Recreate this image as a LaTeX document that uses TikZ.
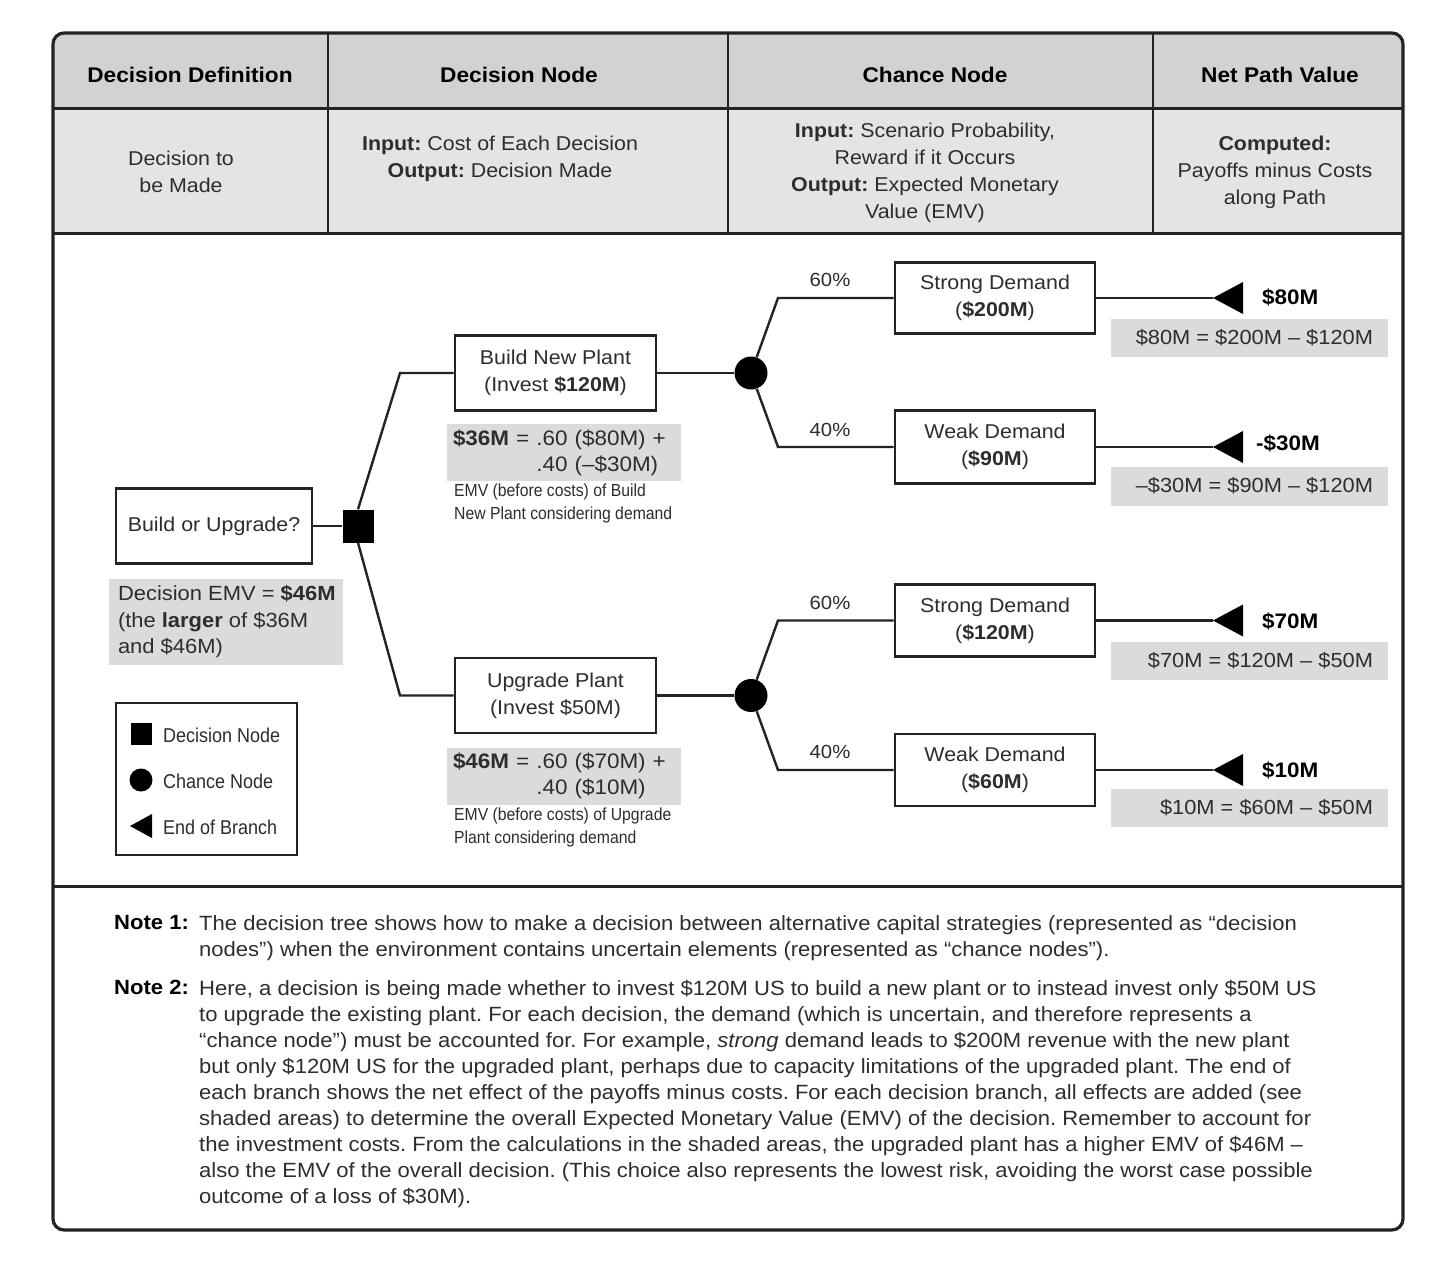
\documentclass[tikz,border=0pt]{standalone}
\usepackage{fontspec}
\setmainfont[FakeStretch=1.07]{Liberation Sans}
\newfontfamily\condf[FakeStretch=0.9]{Liberation Sans}
\definecolor{hdr}{RGB}{210,210,210}
\definecolor{row}{RGB}{228,228,228}
\definecolor{shd}{RGB}{219,219,219}
\definecolor{ln}{RGB}{35,35,35}
\definecolor{txt}{RGB}{45,45,45}
\tikzset{
  base/.style={font=\fontsize{20}{27}\selectfont, text=txt, inner sep=0pt},
  hd/.style={base, font=\fontsize{21.2}{27}\selectfont\bfseries, text=black},
  rw/.style={base, align=center},
  tbox/.style={base, draw=ln, line width=2.6pt, fill=white, minimum width=201pt, minimum height=75pt, align=center},
  shadebox/.style={base, fill=shd, align=left},
  link/.style={draw=ln, line width=2.4pt},
  captxt/.style={base, font=\condf\fontsize{17.5}{22.5}\selectfont, align=left, anchor=north west},
  legtxt/.style={base, font=\condf\fontsize{20}{24}\selectfont, anchor=west},
  notetxt/.style={base, font=\fontsize{20.6}{26}\selectfont, align=left, anchor=north west},
  valtxt/.style={base, font=\fontsize{21}{24}\selectfont\bfseries, text=black, anchor=west},
  pcttxt/.style={base, font=\fontsize{19}{24}\selectfont},
  grybox/.style={base, fill=shd, minimum width=277pt, minimum height=38pt},
  grytxt/.style={base, font=\fontsize{20.4}{26}\selectfont, anchor=east},
  emvtxt/.style={base, fill=shd, font=\fontsize{21}{26}\selectfont, minimum width=234pt, minimum height=57pt, text width=222pt, inner xsep=6pt, align=left}
}
\begin{document}
\frenchspacing
\begin{tikzpicture}[x=1pt,y=-1pt]
\useasboundingbox (0,0) rectangle (1452,1266);
% table fills
\begin{scope}
\clip[rounded corners=11pt] (53,33) rectangle (1403,1230);
\fill[white] (53,33) rectangle (1403,1230);
\fill[hdr] (53,33) rectangle (1403,108);
\fill[row] (53,108) rectangle (1403,233);
\end{scope}
\draw[ln, line width=3pt] (53,108) -- (1403,108);
\draw[ln, line width=3pt] (53,233) -- (1403,233);
\draw[ln, line width=3pt] (53,886) -- (1403,886);
\foreach \xx in {328,728,1153} \draw[ln, line width=2.6pt] (\xx,33) -- (\xx,233);
\draw[ln, line width=3.2pt, rounded corners=11pt] (53,33) rectangle (1403,1230);

% header
\node[hd] (h1) at (190,75) {Decision Definition};
\node[hd] (h2) at (519,75) {Decision Node};
\node[hd] (h3) at (935,75) {Chance Node};
\node[hd] (h4) at (1280,75) {Net Path Value};
\node[rw] (r1) at (181,171.5) {Decision to\\be Made};
\node[rw] (r2) at (500,158.5) {\textbf{Input:} Cost of Each Decision\\\textbf{Output:} Decision Made};
\node[rw] (r3) at (925,172.5) {\textbf{Input:} Scenario Probability,\\Reward if it Occurs\\\textbf{Output:} Expected Monetary\\Value (EMV)};
\node[rw] (r4) at (1275,172.5) {\textbf{Computed:}\\Payoffs minus Costs\\along Path};

% tree nodes
\node[tbox, minimum width=196pt] (q) at (214,526) {Build or Upgrade?};
\node[fill=black, minimum width=31pt, minimum height=33pt, inner sep=0pt] (sq) at (358,526) {};
\node[tbox] (bnp) at (555.5,373) {Build New Plant\\(Invest \textbf{\$120M})};
\node[tbox] (up) at (555.5,695.5) {Upgrade Plant\\(Invest \$50M)};
\node[circle, fill=black, minimum size=33pt, inner sep=0pt] (c1) at (751,373) {};
\node[circle, fill=black, minimum size=33pt, inner sep=0pt] (c2) at (751,695.5) {};
\node[tbox, minimum width=200pt, minimum height=71pt] (sd1) at (995,298) {Strong Demand\\(\textbf{\$200M})};
\node[tbox, minimum width=200pt, minimum height=73pt] (wd1) at (995,447) {Weak Demand\\(\textbf{\$90M})};
\node[tbox, minimum width=200pt, minimum height=72pt] (sd2) at (995,620.5) {Strong Demand\\(\textbf{\$120M})};
\node[tbox, minimum width=200pt, minimum height=72pt] (wd2) at (995,770) {Weak Demand\\(\textbf{\$60M})};

\coordinate (k1) at (400,373);
\coordinate (k2) at (400,695.5);
\coordinate (a1) at (778,298);
\coordinate (a2) at (778,447);
\coordinate (a3) at (778,620.5);
\coordinate (a4) at (778,770);
\coordinate (e1) at (1213,298);
\coordinate (e2) at (1213,447);
\coordinate (e3) at (1213,620.5);
\coordinate (e4) at (1213,770);

\draw[link] (q.east) -- (sq.west);
\draw[link] (sq.north) -- (k1) -- (bnp.west);
\draw[link] (sq.south) -- (k2) -- (up.west);
\draw[link] (bnp.east) -- (c1);
\draw[link] (up.east) -- (c2);
\draw[link] (c1) -- (a1) -- (sd1.west);
\draw[link] (c1) -- (a2) -- (wd1.west);
\draw[link] (c2) -- (a3) -- (sd2.west);
\draw[link] (c2) -- (a4) -- (wd2.west);
\draw[link] (sd1.east) -- (e1);
\draw[link] (wd1.east) -- (e2);
\draw[link] (sd2.east) -- (e3);
\draw[link] (wd2.east) -- (e4);
\foreach \e in {e1,e2,e3,e4} \fill[black] (\e) -- ++(30,-16) -- ++(0,32) -- cycle;

% percentages
\node[pcttxt] (p1) at (830,280) {60\%};
\node[pcttxt] (p2) at (830,430) {40\%};
\node[pcttxt] (p3) at (830,603) {60\%};
\node[pcttxt] (p4) at (830,752) {40\%};

% end values
\node[valtxt] (v1) at (1262,297) {\$80M};
\node[valtxt] (v2) at (1256,443) {-\$30M};
\node[valtxt] (v3) at (1262,621) {\$70M};
\node[valtxt] (v4) at (1262,770) {\$10M};

\node[grybox] (g1) at (1249.5,338) {};
\node[grytxt] (g1t) at ([xshift=-15pt]g1.east) {\$80M = \$200M – \$120M};
\node[grybox, minimum height=39pt] (g2) at (1249.5,486) {};
\node[grytxt] (g2t) at ([xshift=-15pt]g2.east) {–\$30M = \$90M – \$120M};
\node[grybox] (g3) at (1249.5,661) {};
\node[grytxt] (g3t) at ([xshift=-15pt]g3.east) {\$70M = \$120M – \$50M};
\node[grybox] (g4) at (1249.5,808) {};
\node[grytxt] (g4t) at ([xshift=-15pt]g4.east) {\$10M = \$60M – \$50M};

% EMV boxes
\node[emvtxt] (m1) at (564,452.5) {\textbf{\$36M} = .60 (\$80M) +\\\phantom{\textbf{\$36M} = }.40 (–\$30M)};
\node[captxt] (c1t) at (454,484) {EMV (before costs) of Build\\New Plant considering demand};
\node[emvtxt] (m2) at (564,776) {\textbf{\$46M} = .60 (\$70M) +\\\phantom{\textbf{\$46M} = }.40 (\$10M)};
\node[captxt] (c2t) at (454,808) {EMV (before costs) of Upgrade\\Plant considering demand};

\node[base, fill=shd, minimum width=234pt, minimum height=86pt] (dm) at (226,622) {};
\node[base, anchor=west, align=left, font=\fontsize{20.5}{26.5}\selectfont] (dmt) at ([xshift=9pt]dm.west) {Decision EMV = \textbf{\$46M}\\(the \textbf{larger} of \$36M\\and \$46M)};

% legend
\node[draw=ln, line width=2.6pt, minimum width=181pt, minimum height=152pt] (lg) at (206.5,779) {};
\node[fill=black, minimum width=21pt, minimum height=22pt] (ls) at (141,734) {};
\node[circle, fill=black, minimum size=23pt] (lc) at (141,780) {};
\coordinate (lt) at (130,826);
\fill[black] (lt) -- ++(22,-12) -- ++(0,24) -- cycle;
\node[legtxt] (l1) at (163,735) {Decision Node};
\node[legtxt] (l2) at (163,781) {Chance Node};
\node[legtxt] (l3) at (163,827) {End of Branch};

% notes
\node[notetxt, font=\fontsize{20.6}{26}\selectfont\bfseries, text=black] (n1) at (114,915) {Note 1:};
\node[notetxt] (n1t) at (199,915) {The decision tree shows how to make a decision between alternative capital strategies (represented as “decision\\nodes”) when the environment contains uncertain elements (represented as “chance nodes”).};
\node[notetxt, font=\fontsize{20.6}{26}\selectfont\bfseries, text=black] (n2) at (114,980) {Note 2:};
\node[notetxt] (n2t) at (199,980) {Here, a decision is being made whether to invest \$120M US to build a new plant or to instead invest only \$50M US\\
to upgrade the existing plant. For each decision, the demand (which is uncertain, and therefore represents a\\
“chance node”) must be accounted for. For example, \emph{strong} demand leads to \$200M revenue with the new plant\\
but only \$120M US for the upgraded plant, perhaps due to capacity limitations of the upgraded plant. The end of\\
each branch shows the net effect of the payoffs minus costs. For each decision branch, all effects are added (see\\
shaded areas) to determine the overall Expected Monetary Value (EMV) of the decision. Remember to account for\\
the investment costs. From the calculations in the shaded areas, the upgraded plant has a higher EMV of \$46M –\\
also the EMV of the overall decision. (This choice also represents the lowest risk, avoiding the worst case possible\\
outcome of a loss of \$30M).};
\end{tikzpicture}
\end{document}
